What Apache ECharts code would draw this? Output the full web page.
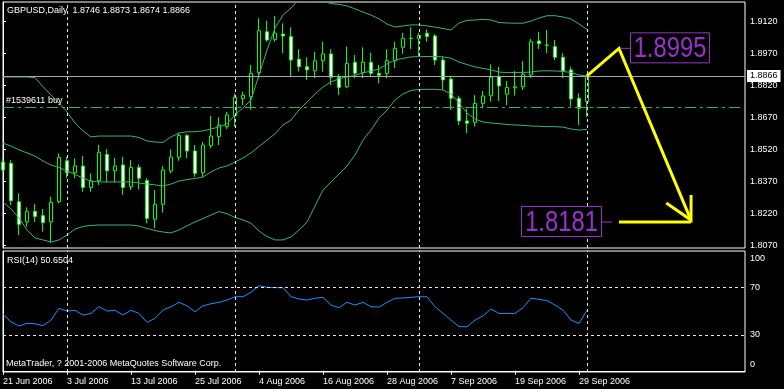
<!DOCTYPE html>
<html><head><meta charset="utf-8">
<script src="https://cdn.jsdelivr.net/npm/echarts@6/dist/echarts.min.js"></script>
<style>html,body{margin:0;padding:0;background:#000;}#c{width:784px;height:389px;}</style>
</head><body><div id="c"></div>
<script>
// ---- data (GBPUSD Daily, 21 Jun 2006 .. 2 Oct 2006), bar index = trading day ----
const openPrices = [1.8462,1.8456,1.8276,1.8182,1.8231,1.8211,1.8182,1.8276,1.8468,1.8412,
1.8443,1.8343,1.8375,1.8498,1.8421,1.8448,1.8346,1.8437,1.8375,1.8194,
1.8264,1.8420,1.8484,1.8587,1.8514,1.8412,1.8539,1.8581,1.8628,1.8679,
1.8759,1.8768,1.8881,1.9073,1.9037,1.9062,1.9050,1.8944,1.8909,1.8890,
1.8937,1.8969,1.8859,1.8815,1.8930,1.8881,1.8930,1.8878,1.8878,1.8937,
1.9000,1.9040,1.9040,1.9066,1.9053,1.8940,1.8851,1.8761,1.8655,1.8648,
1.8737,1.8773,1.8862,1.8780,1.8810,1.8815,1.8870,1.9030,1.9011,1.9003,
1.8953,1.8894,1.8761,1.8746];
const highPrices = [1.8481,1.8471,1.8316,1.8250,1.8266,1.8242,1.8300,1.8503,1.8487,1.8480,
1.8490,1.8409,1.8542,1.8523,1.8482,1.8487,1.8471,1.8451,1.8386,1.8331,
1.8443,1.8522,1.8600,1.8593,1.8542,1.8557,1.8678,1.8672,1.8698,1.8784,
1.8792,1.8917,1.9136,1.9125,1.9147,1.9112,1.9094,1.8991,1.8953,1.8979,
1.9026,1.8991,1.8875,1.9003,1.8964,1.9000,1.8975,1.8917,1.8991,1.9026,
1.9068,1.9094,1.9068,1.9084,1.9062,1.8956,1.8867,1.8773,1.8711,1.8776,
1.8795,1.8920,1.8909,1.8842,1.8889,1.8936,1.9039,1.9073,1.9081,1.9034,
1.8972,1.8909,1.8784,1.8873];
const lowPrices = [1.8415,1.8261,1.8120,1.8159,1.8182,1.8136,1.8084,1.8269,1.8386,1.8386,
1.8323,1.8323,1.8354,1.8367,1.8367,1.8308,1.8331,1.8334,1.8175,1.8152,
1.8225,1.8409,1.8468,1.8480,1.8393,1.8393,1.8527,1.8542,1.8616,1.8628,
1.8729,1.8706,1.8855,1.9026,1.9026,1.8972,1.8865,1.8886,1.8847,1.8855,
1.8886,1.8823,1.8776,1.8808,1.8855,1.8855,1.8862,1.8831,1.8855,1.8902,
1.8969,1.8991,1.8956,1.9026,1.8917,1.8800,1.8706,1.8636,1.8597,1.8628,
1.8714,1.8745,1.8748,1.8729,1.8773,1.8800,1.8857,1.8992,1.8972,1.8940,
1.8855,1.8722,1.8636,1.8674];
const closePrices = [1.8425,1.8281,1.8170,1.8231,1.8206,1.8178,1.8273,1.8484,1.8412,1.8443,
1.8343,1.8373,1.8508,1.8421,1.8443,1.8343,1.8437,1.8386,1.8198,1.8264,
1.8425,1.8486,1.8587,1.8514,1.8409,1.8542,1.8584,1.8636,1.8683,1.8766,
1.8775,1.8878,1.9078,1.9034,1.9066,1.9053,1.8940,1.8909,1.8894,1.8937,
1.8969,1.8859,1.8812,1.8925,1.8878,1.8930,1.8878,1.8869,1.8937,1.8995,
1.9042,1.9043,1.9056,1.9050,1.8940,1.8847,1.8761,1.8655,1.8644,1.8737,
1.8772,1.8859,1.8819,1.8812,1.8815,1.8873,1.9026,1.9017,1.9009,1.8953,
1.8889,1.8758,1.8714,1.8866];
const bandUpper = [1.8861,1.8861,1.8861,1.8861,1.8858,1.8815,1.8776,1.8739,1.8697,1.8645,
1.8608,1.8580,1.8584,1.8584,1.8584,1.8584,1.8584,1.8577,1.8561,1.8556,
1.8554,1.8580,1.8598,1.8604,1.8604,1.8608,1.8617,1.8627,1.8641,1.8683,
1.8716,1.8753,1.8870,1.8987,1.9090,1.9151,1.9184,1.9225,1.9245,1.9236,
1.9217,1.9205,1.9201,1.9194,1.9180,1.9165,1.9151,1.9133,1.9109,1.9095,
1.9100,1.9105,1.9105,1.9100,1.9095,1.9088,1.9081,1.9114,1.9126,1.9128,
1.9131,1.9128,1.9116,1.9114,1.9113,1.9113,1.9123,1.9137,1.9148,1.9148,
1.9142,1.9133,1.9109,1.9084];
const bandMiddle = [1.8551,1.8537,1.8519,1.8505,1.8490,1.8467,1.8448,1.8437,1.8420,1.8404,
1.8387,1.8373,1.8369,1.8369,1.8369,1.8369,1.8369,1.8364,1.8359,1.8355,
1.8350,1.8359,1.8373,1.8380,1.8385,1.8392,1.8416,1.8434,1.8444,1.8462,
1.8481,1.8505,1.8535,1.8565,1.8594,1.8636,1.8659,1.8706,1.8744,1.8781,
1.8814,1.8838,1.8852,1.8861,1.8868,1.8880,1.8889,1.8898,1.8922,1.8940,
1.8948,1.8955,1.8956,1.8957,1.8957,1.8955,1.8949,1.8931,1.8919,1.8908,
1.8901,1.8894,1.8884,1.8881,1.8882,1.8882,1.8884,1.8889,1.8890,1.8889,
1.8887,1.8882,1.8870,1.8865];
const bandLower = [1.8275,1.8242,1.8200,1.8144,1.8106,1.8097,1.8087,1.8097,1.8120,1.8148,
1.8160,1.8165,1.8167,1.8167,1.8167,1.8167,1.8167,1.8162,1.8151,1.8141,
1.8134,1.8130,1.8144,1.8163,1.8181,1.8197,1.8214,1.8230,1.8220,1.8202,
1.8191,1.8175,1.8139,1.8113,1.8097,1.8097,1.8111,1.8144,1.8181,1.8256,
1.8331,1.8369,1.8406,1.8444,1.8495,1.8565,1.8612,1.8668,1.8706,1.8753,
1.8781,1.8798,1.8802,1.8803,1.8803,1.8800,1.8781,1.8739,1.8692,1.8664,
1.8650,1.8645,1.8642,1.8638,1.8636,1.8634,1.8631,1.8630,1.8628,1.8628,
1.8626,1.8617,1.8612,1.8616];
const rsiValues = [47.3,41.0,37.5,39.8,39.4,37.8,42.5,52.4,50.1,50.7,
46.7,48.1,53.7,50.1,50.7,46.7,50.7,48.1,40.6,44.0,
50.9,53.7,57.4,54.5,49.5,54.5,56.2,57.4,59.3,62.1,
62.1,65.8,71.3,70.0,69.7,69.7,62.1,60.2,59.3,60.8,
61.6,55.1,52.9,57.4,55.1,57.4,53.7,53.4,57.4,60.8,
61.0,61.6,62.1,62.1,53.7,48.1,42.5,37.0,36.9,42.5,
46.1,51.8,48.1,48.1,48.1,52.9,60.8,59.9,58.8,55.1,
50.9,42.5,39.7,50.65];
const dateLabelIdx = [0,8,16,24,32,40,48,56,64,72];
const dateLabels = ['21 Jun 2006','3 Jul 2006','13 Jul 2006','25 Jul 2006','4 Aug 2006','16 Aug 2006','28 Aug 2006','7 Sep 2006','19 Sep 2006','29 Sep 2006'];
const monthStartIdx = [8,29,52,73];
const priceTicks = [1.8070,1.8220,1.8370,1.8520,1.8670,1.8820,1.8970,1.9120];
const rsiTicks = [0,30,70,100];
const rsiLevels = [70,30];
const bidPrice = 1.8866;
const orderPrice = 1.8719;
const orderLabel = '#1539611 buy';
// forecast drawing (yellow arrow + price labels)
const arrowX = [73,77,86];
const arrowY = [1.8866,1.8995,1.8190];
const targetLineX = [77,86];
const targetPrice = 1.8181;
const labelHigh = 1.8995;
const labelLow = 1.8181;
const labelAnchorX = 77;

const FONT = 'Liberation Sans';
const WHITE = '#ffffff';
const ohlc = closePrices.map((c,i)=>[i, openPrices[i], c, lowPrices[i], highPrices[i]]);
const pairs = arr => arr.map((v,i)=>[i,v]);

const vLines = monthStartIdx.map(v=>({xAxis:v, lineStyle:{color:'#e8e8e8', type:[3,3], width:1}, label:{show:false}}));

const chart = echarts.init(document.getElementById('c'), null, {renderer:'canvas'});
const option = {
  backgroundColor:'#000000',
  animation:false,
  grid:[
    {left:3, right:39, top:2, height:246, show:true, borderColor:WHITE, borderWidth:1, backgroundColor:'transparent', outerBoundsMode:'none'},
    {left:3, right:39, top:251, height:121, show:true, borderColor:WHITE, borderWidth:1, backgroundColor:'transparent', outerBoundsMode:'none'}
  ],
  xAxis:[
    {gridIndex:0, type:'value', min:0, max:92.75, axisLine:{show:false}, axisTick:{show:false}, axisLabel:{show:false}, splitLine:{show:false}},
    {gridIndex:1, type:'value', min:0, max:92.75,
     axisLine:{show:true, lineStyle:{color:WHITE}},
     axisTick:{show:true, customValues:dateLabelIdx, length:4, lineStyle:{color:WHITE}},
     axisLabel:{show:true, customValues:dateLabelIdx, formatter:v=>dateLabels[dateLabelIdx.indexOf(Math.round(v))]||'', color:WHITE, fontSize:9, fontFamily:FONT, align:'left', margin:5},
     splitLine:{show:false}}
  ],
  yAxis:[
    {gridIndex:0, type:'value', position:'right', min:1.80592, max:1.92123,
     axisLine:{show:true, lineStyle:{color:WHITE}},
     axisTick:{show:true, customValues:priceTicks, length:3, lineStyle:{color:WHITE}},
     axisLabel:{show:true, customValues:priceTicks, formatter:v=>v.toFixed(4), color:WHITE, fontSize:9, fontFamily:FONT, margin:5},
     splitLine:{show:false}},
    {gridIndex:1, type:'value', position:'right', min:-1.03, max:100.44,
     axisLine:{show:true, lineStyle:{color:WHITE}},
     axisTick:{show:true, customValues:[30,70], length:3, lineStyle:{color:WHITE}},
     axisLabel:{show:true, customValues:rsiTicks, color:WHITE, fontSize:9, fontFamily:FONT, margin:5,
       formatter:v=> v===100 ? '{d|100}' : (v===0 ? '{u|0}' : String(v)),
       rich:{d:{color:WHITE, fontSize:9, fontFamily:FONT, padding:[14,0,0,0]}, u:{color:WHITE, fontSize:9, fontFamily:FONT, padding:[0,0,12,0]}}},
     splitLine:{show:false}}
  ],
  graphic:[
    {type:'text', left:7, top:6, style:{text:'GBPUSD,Daily  1.8746 1.8873 1.8674 1.8866', fill:WHITE, font:'9px "'+FONT+'"'}},
    {type:'text', left:7, top:256, style:{text:'RSI(14) 50.6504', fill:WHITE, font:'9px "'+FONT+'"'}},
    {type:'text', left:6, top:359, style:{text:'MetaTrader, ? 2001-2006 MetaQuotes Software Corp.', fill:WHITE, font:'9px "'+FONT+'"'}}
  ],
  series:[
    {type:'line', name:'BB upper', xAxisIndex:0, yAxisIndex:0, data:pairs(bandUpper), symbol:'none', lineStyle:{color:'#3cb371', width:1}, clip:true, silent:true},
    {type:'line', name:'BB middle', xAxisIndex:0, yAxisIndex:0, data:pairs(bandMiddle), symbol:'none', lineStyle:{color:'#3cb371', width:1}, clip:true, silent:true,
     markLine:{silent:true, symbol:['none','none'], animation:false, precision:4,
       data: vLines.concat([
         {yAxis:bidPrice, lineStyle:{color:'#a8a8a8', type:'solid', width:1},
          label:{show:true, position:'end', formatter:bidPrice.toFixed(4), color:'#000', backgroundColor:'#fff', padding:[2,3,1,3], fontSize:9, fontFamily:FONT, distance:2}},
         {yAxis:orderPrice, lineStyle:{color:'#33b54a', type:[11,4,3,4], width:1},
          label:{show:true, position:'insideStartTop', formatter:orderLabel, color:WHITE, fontSize:9, fontFamily:FONT, distance:[3,2]}}
       ])}},
    {type:'line', name:'BB lower', xAxisIndex:0, yAxisIndex:0, data:pairs(bandLower), symbol:'none', lineStyle:{color:'#3cb371', width:1}, clip:true, silent:true},
    {type:'candlestick', name:'GBPUSD', xAxisIndex:0, yAxisIndex:0, data:ohlc, encode:{x:0, y:[1,2,3,4]},
     barWidth:4, clip:true,
     itemStyle:{color:'#000000', color0:'#ffffff', borderColor:'#00ff00', borderColor0:'#00ff00', borderWidth:1}},
    {type:'custom', name:'forecast', xAxisIndex:0, yAxisIndex:0, data:[[arrowX[0], arrowY[0]]], encode:{x:0,y:1}, silent:true, z:5,
     renderItem:function(params, api){
       const pts = arrowX.map((x,i)=>api.coord([x, arrowY[i]]));
       const tip = pts[pts.length-1], prev = pts[pts.length-2];
       const ang = Math.atan2(prev[1]-tip[1], prev[0]-tip[0]);
       const h1 = [tip[0]+30*Math.cos(ang-0.57), tip[1]+30*Math.sin(ang-0.57)];
       const h2 = [tip[0]+25*Math.cos(ang+0.40), tip[1]+25*Math.sin(ang+0.40)];
       const t0 = api.coord([targetLineX[0], targetPrice]), t1 = api.coord([targetLineX[1], targetPrice]);
       const hp = api.coord([labelAnchorX, labelHigh]);
       const lp = api.coord([labelAnchorX, labelLow]);
       const Y = '#ffff00', P = '#9932cc';
       const bigText = (txt, cx, cy) => ({type:'text', x:cx, y:cy, scaleX:0.82, style:{text:txt, fill:P, fontSize:29, fontFamily:FONT, align:'center', verticalAlign:'middle'}});
       return {type:'group', children:[
         {type:'polyline', shape:{points:pts}, style:{stroke:Y, lineWidth:3, fill:null, lineJoin:'miter'}},
         {type:'polyline', shape:{points:[h1, tip, h2]}, style:{stroke:Y, lineWidth:3, fill:null}},
         {type:'line', shape:{x1:t0[0], y1:t0[1], x2:t1[0], y2:t1[1]}, style:{stroke:Y, lineWidth:3}},
         {type:'line', shape:{x1:hp[0]+1, y1:hp[1], x2:hp[0]+11, y2:hp[1]}, style:{stroke:P, lineWidth:1}},
         {type:'rect', shape:{x:hp[0]+11.5, y:hp[1]-15.5, width:79, height:30}, style:{stroke:P, fill:'#000', lineWidth:1}},
         bigText(labelHigh.toFixed(4), hp[0]+51, hp[1]+1),
         {type:'line', shape:{x1:lp[0]-17, y1:lp[1], x2:lp[0]-7, y2:lp[1]}, style:{stroke:P, lineWidth:1}},
         {type:'rect', shape:{x:lp[0]-97.5, y:lp[1]-15.5, width:80, height:30}, style:{stroke:P, fill:'#000', lineWidth:1}},
         bigText(labelLow.toFixed(4), lp[0]-57.5, lp[1]+1)
       ]};
     }},
    {type:'line', name:'RSI(14)', xAxisIndex:1, yAxisIndex:1, data:pairs(rsiValues), symbol:'none', lineStyle:{color:'#1e90ff', width:1}, silent:true,
     markLine:{silent:true, symbol:['none','none'], animation:false, label:{show:false},
       data: vLines.concat(rsiLevels.map(v=>({yAxis:v, lineStyle:{color:'#e8e8e8', type:[3,3], width:1}})))}}
  ]
};
chart.setOption(option);
</script>
</body></html>
